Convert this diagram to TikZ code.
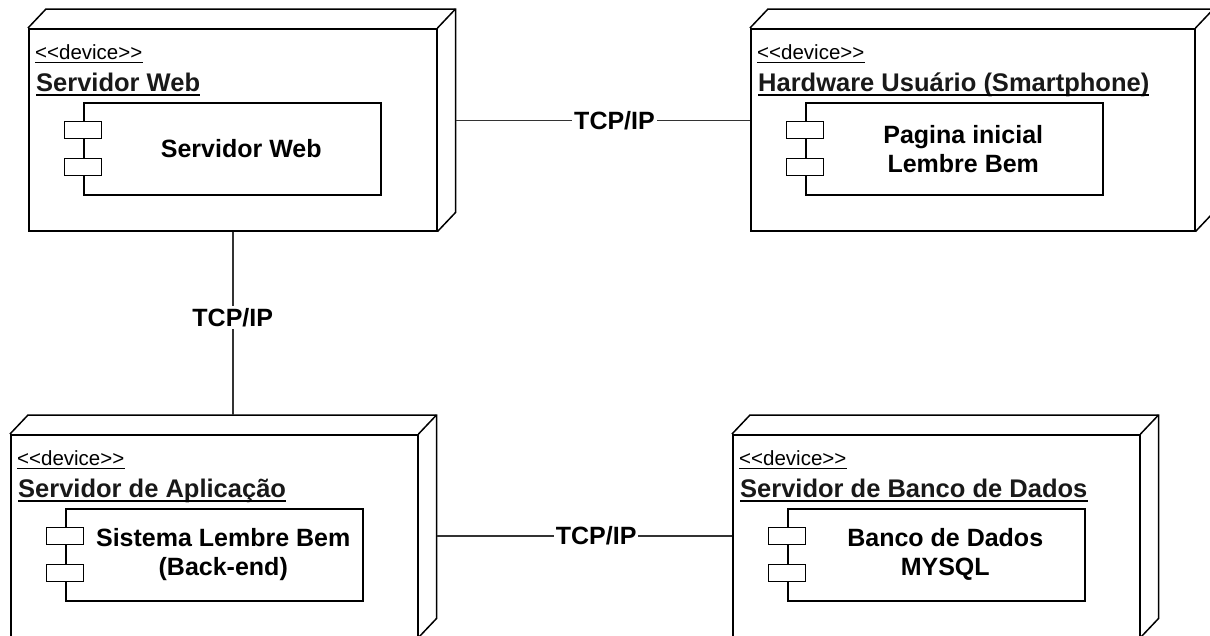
\documentclass[tikz,border=0pt]{standalone}
\usepackage{fontspec}
\setmainfont{Liberation Sans}
\usetikzlibrary{calc,fit}

% 3D device box: name, x, y, width, height (front face, top-left corner)
\newcommand\devicebox[5]{%
  \node[face, minimum width=#4pt, minimum height=#5pt] (#1) at (#2,#3) {};
  \coordinate (#1-back) at ($(#1.north east)+(18,-19)$);
  \draw[edge] (#1.north west) -- ++(18,-19) -- (#1-back)
     -- ($(#1.south east)+(18,-19)$) -- (#1.south east);
  \draw[edge] (#1.north east) -- (#1-back);
  \node[fit=(#1)(#1-back), inner sep=0pt] (#1box) {};
}
% stereotype and name of a device, both underlined
\newcommand\devicetitle[2]{%
  \node[stereo] (#1-st) at ($(#1.north west)+(7,31)$) {<\kern0pt<device>\kern0pt>};
  \draw[ulthin] ($(#1-st.base west)+(0,3)$) -- ($(#1-st.base east)+(0,3)$);
  \node[title] (#1-ti) at ($(#1.north west)+(8,63)$) {#2};
  \draw[ulthick] ($(#1-ti.base west)+(0,4)$) -- ($(#1-ti.base east)+(0,4)$);
}
% component symbol inside a device: parent, name, label
\newcommand\component[3]{%
  \node[comp] (#2) at ($(#1.north west)+(55,74)$) {};
  \node[lug] (#2-l1) at ($(#2.north west)+(0,28)$) {};
  \node[lug] (#2-l2) at ($(#2.north west)+(0,65)$) {};
  \node[lbl] (#2-t) at ($(#2.center)+(9,0)$) {#3};
}

\tikzset{
  edge/.style={line width=1.5pt, line join=miter},
  face/.style={draw, line width=1.5pt, fill=white, anchor=north west, inner sep=0pt},
  comp/.style={draw, line width=1.5pt, fill=white, anchor=north west, inner sep=0pt,
               minimum width=297pt, minimum height=92pt},
  lug/.style={draw, line width=1.5pt, fill=white, inner sep=0pt,
              minimum width=37pt, minimum height=17pt},
  stereo/.style={anchor=base west, inner sep=0pt, font=\fontsize{20.5}{25}\selectfont},
  title/.style={anchor=base west, inner sep=0pt, font=\fontsize{25.5}{29}\selectfont\bfseries, text=black!90},
  ulthin/.style={line width=1pt},
  ulthick/.style={line width=1.4pt},
  lbl/.style={align=center, inner sep=0pt, font=\fontsize{25}{29}\selectfont\bfseries},
  link/.style={line width=1.5pt, draw=black!80},
  tcp/.style={fill=white, inner sep=2pt, font=\fontsize{25}{29}\selectfont\bfseries},
}

\begin{document}
\begin{tikzpicture}[x=1pt, y=-1pt]
  \useasboundingbox (0,0) rectangle (1210,635);

  % devices
  \devicebox{A}{28}{28}{408}{202}
  \devicebox{B}{750}{28}{444}{202}
  \devicebox{C}{10}{434}{407}{202}
  \devicebox{D}{732}{434}{407}{202}

  \devicetitle{A}{Servidor Web}
  \devicetitle{B}{Hardware Usuário (Smartphone)}
  \devicetitle{C}{Servidor de Aplicação}
  \devicetitle{D}{Servidor de Banco de Dados}

  \component{A}{cA}{Servidor Web}
  \component{B}{cB}{Pagina inicial\\Lembre Bem}
  \component{C}{cC}{Sistema Lembre Bem\\(Back-end)}
  \component{D}{cD}{Banco de Dados\\MYSQL}

  % communication paths
  \draw[link] (Abox.east) -- node[tcp, pos=0.54] (t1) {TCP/IP} (Bbox.west);
  \draw[link] (A.south) -- node[tcp, pos=0.47] (t2) {TCP/IP} (A.south |- Cbox.north);
  \draw[link] (C.east -| Cbox.east) -- node[tcp, pos=0.54] (t3) {TCP/IP} (D.west);
\end{tikzpicture}
\end{document}
